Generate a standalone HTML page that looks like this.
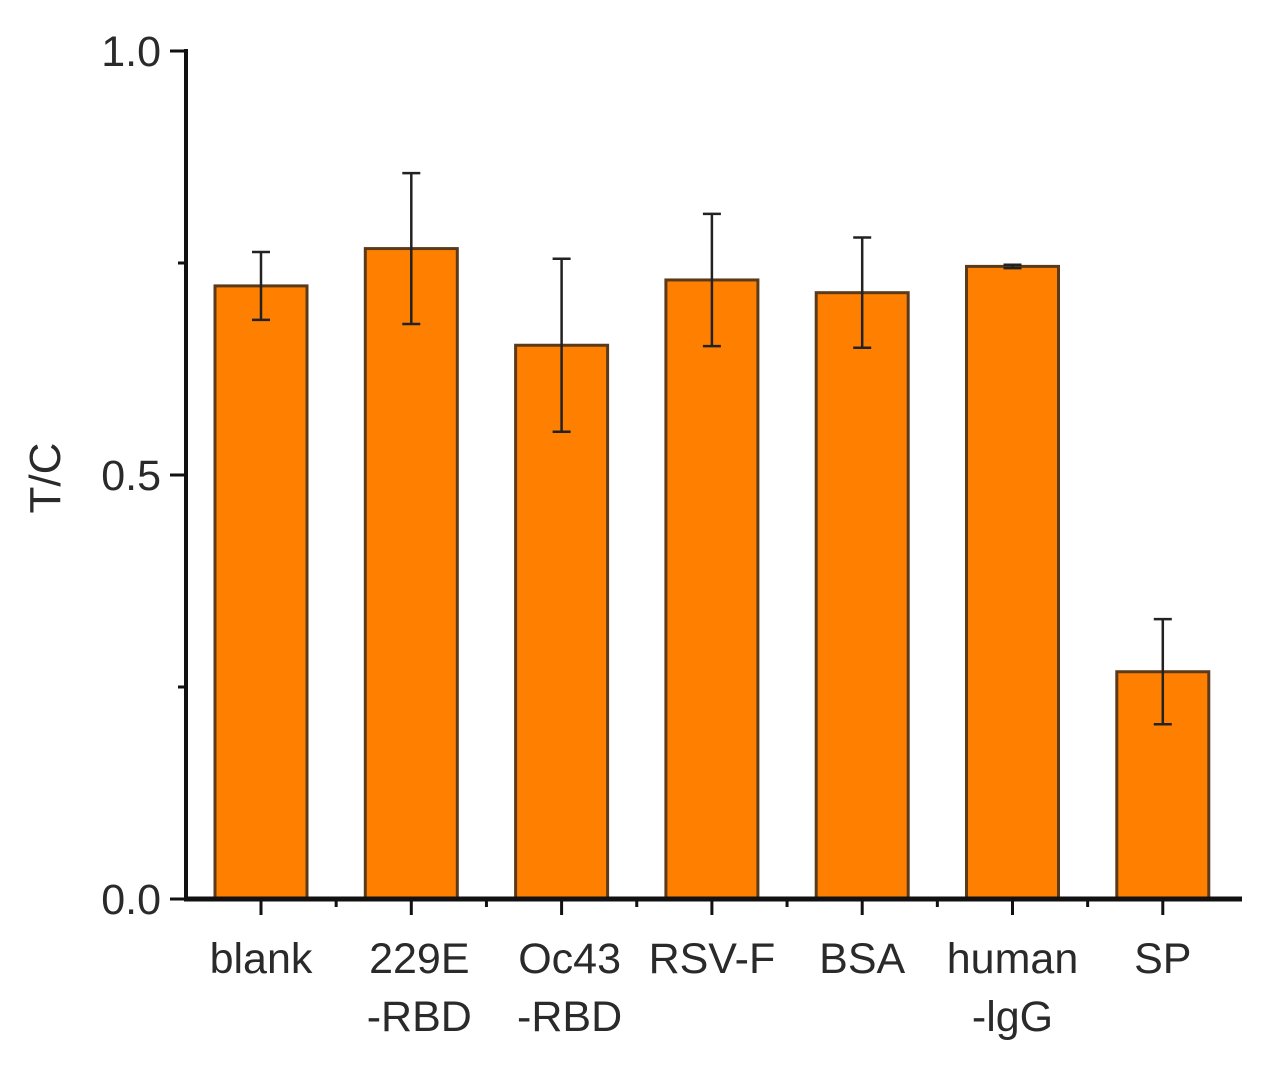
<!DOCTYPE html>
<html><head><meta charset="utf-8"><style>body{margin:0;background:#fff}svg{display:block}text{font-family:"Liberation Sans",sans-serif;fill:#2a2a2a}</style></head>
<body>
<svg id="chart" width="1266" height="1069"></svg>
<script>
const categories=[["blank"],["229E","-RBD"],["Oc43","-RBD"],["RSV-F"],["BSA"],["human","-lgG"],["SP"]];
const values=[0.723,0.767,0.653,0.730,0.715,0.746,0.268];
const errors=[0.040,0.089,0.102,0.078,0.065,0.002,0.062];
const yTicks=[0,0.5,1.0];
const yMinor=[0.25,0.75];
const NS="http://www.w3.org/2000/svg";
const svg=document.getElementById('chart');
const X0=186,Y0=899,Y1=51,step=150.3,first=261,bw=92;
const y=v=>Y0-(Y0-Y1)*v;
const x=i=>first+i*step;
function mk(t,a){const e=document.createElementNS(NS,t);for(const k in a)e.setAttribute(k,a[k]);svg.appendChild(e);return e;}
categories.forEach((c,i)=>{
 const b=mk('rect',{x:x(i)-bw/2,y:y(values[i]),width:bw,height:Y0-y(values[i]),fill:'#ff8000',stroke:'#5a3a1a','stroke-width':3});
 
 
 const g=mk('path',{d:`M${x(i)} ${y(values[i]+errors[i])}V${y(values[i]-errors[i])}M${x(i)-9} ${y(values[i]+errors[i])}h18M${x(i)-9} ${y(values[i]-errors[i])}h18`,stroke:'#222','stroke-width':2.5,fill:'none'});
 
 
 mk('line',{x1:x(i),x2:x(i),y1:Y0,y2:Y0+16,stroke:'#111','stroke-width':3});
 if(i<categories.length-1)mk('line',{x1:x(i)+step/2,x2:x(i)+step/2,y1:Y0,y2:Y0+8,stroke:'#111','stroke-width':3});
 c.forEach((s,j)=>{const t=mk('text',{x:x(i)+(c.length>1&&i<3?8:0),y:973+j*58,'font-size':43,'text-anchor':'middle'});t.textContent=s;
 
 });
});
mk('line',{x1:X0,x2:X0,y1:Y1-2,y2:Y0+2,stroke:'#111','stroke-width':4});
mk('line',{x1:X0-2,x2:1242,y1:Y0,y2:Y0,stroke:'#111','stroke-width':5});
yTicks.forEach(v=>{mk('line',{x1:X0-16,x2:X0,y1:y(v),y2:y(v),stroke:'#111','stroke-width':3});
 const t=mk('text',{x:161,y:y(v)+15,'font-size':43,'text-anchor':'end'});t.textContent=v.toFixed(1);
 
 });
yMinor.forEach(v=>mk('line',{x1:X0-8,x2:X0,y1:y(v),y2:y(v),stroke:'#111','stroke-width':3}));
const yt=mk('text',{x:60,y:478,'font-size':44,'text-anchor':'middle',transform:'rotate(-90 60 478)'});yt.textContent='T/C';


</script>
</body></html>
